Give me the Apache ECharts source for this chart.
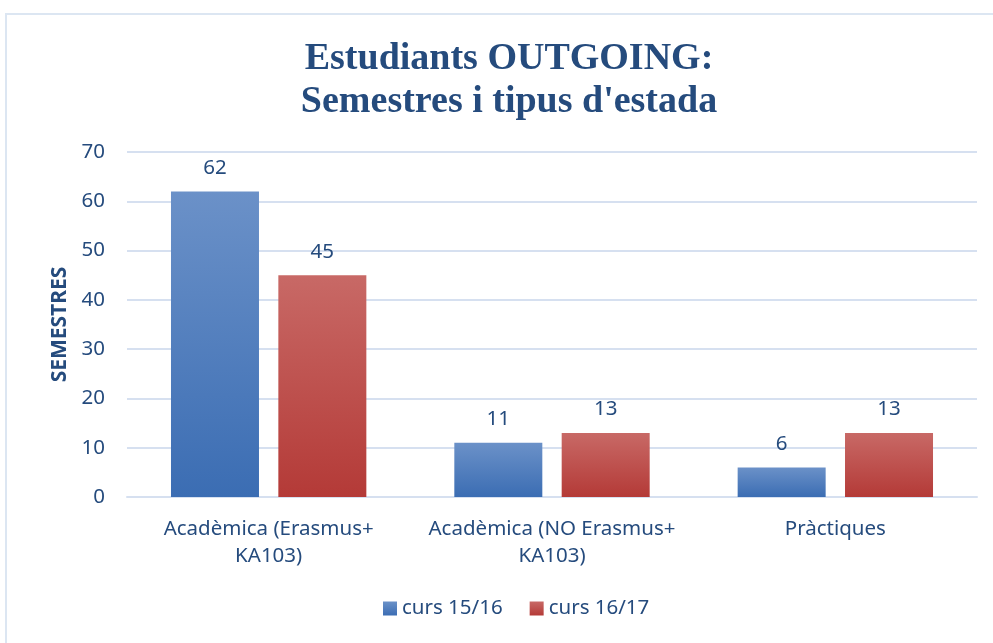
<!DOCTYPE html>
<html>
<head>
<meta charset="utf-8">
<script src="https://cdn.jsdelivr.net/npm/echarts@6/dist/echarts.min.js"></script>
<style>
  html, body { margin: 0; padding: 0; background: #fff; }
  .frame {
    position: absolute; left: 5px; top: 13px; width: 1000px; height: 650px;
    border: 2px solid #dce6f2; box-sizing: border-box;
  }
  #chart { position: absolute; left: 0; top: 0; width: 993px; height: 643px; }
</style>
</head>
<body>
<div class="frame"></div>
<div id="chart"></div>
<script>
const categories = ["Acadèmica (Erasmus+\nKA103)", "Acadèmica (NO Erasmus+\nKA103)", "Pràctiques"];
const curs1516 = [62, 11, 6];
const curs1617 = [45, 13, 13];
const seriesNames = ["curs 15/16", "curs 16/17"];

const textColor = "#254b7d";
const labelFont = "Noto Sans";

const chartInstance = echarts.init(document.getElementById("chart"));

function grad(top, bottom) {
  return new echarts.graphic.LinearGradient(0, 0, 0, 1, [
    { offset: 0, color: top },
    { offset: 1, color: bottom },
  ]);
}

const option = {
  animation: false,
  title: {
    text: "Estudiants OUTGOING:\nSemestres i tipus d'estada",
    left: 504,
    top: 33,
    textAlign: "center",
    textStyle: {
      fontFamily: "Liberation Serif",
      fontWeight: "bold",
      fontSize: 38,
      lineHeight: 43,
      color: textColor,
    },
  },
  grid: {
    left: 127,
    right: 16,
    top: 152,
    bottom: 146,
    containLabel: false,
  },
  legend: {
    bottom: 19,
    left: 378,
    itemWidth: 14,
    itemHeight: 14,
    itemGap: 27,
    itemTextGap: 6,
    icon: "rect",
    textStyle: { fontFamily: labelFont, fontSize: 20.5, color: textColor },
    data: seriesNames,
  },
  xAxis: {
    type: "category",
    data: categories,
    axisTick: { show: false },
    axisLine: { lineStyle: { color: "#d6e0f0", width: 2 } },
    axisLabel: {
      margin: 19,
      interval: 0,
      lineHeight: 27,
      fontFamily: labelFont,
      fontSize: 20.5,
      color: textColor,
    },
  },
  yAxis: {
    type: "value",
    min: 0,
    max: 70,
    interval: 10,
    name: "SEMESTRES",
    nameLocation: "middle",
    nameGap: 55,
    nameTextStyle: {
      fontFamily: labelFont,
      fontWeight: "bold",
      fontSize: 21,
      color: textColor,
    },
    axisLine: { show: false },
    axisTick: { show: false },
    axisLabel: {
      margin: 22,
      fontFamily: labelFont,
      fontSize: 20.5,
      color: textColor,
    },
    splitLine: { lineStyle: { color: "#d6e0f0", width: 2 } },
  },
  series: [
    {
      name: seriesNames[0],
      type: "bar",
      data: curs1516,
      barWidth: 88,
      barGap: "22%",
      itemStyle: { color: grad("#6b91c8", "#3b6db3") },
      label: {
        show: true,
        position: "top",
        distance: 13,
        fontFamily: labelFont,
        fontSize: 20.5,
        color: textColor,
      },
    },
    {
      name: seriesNames[1],
      type: "bar",
      data: curs1617,
      barWidth: 88,
      itemStyle: { color: grad("#c86966", "#b43a37") },
      label: {
        show: true,
        position: "top",
        distance: 13,
        fontFamily: labelFont,
        fontSize: 20.5,
        color: textColor,
      },
    },
  ],
};
chartInstance.setOption(option);
</script>
</body>
</html>
